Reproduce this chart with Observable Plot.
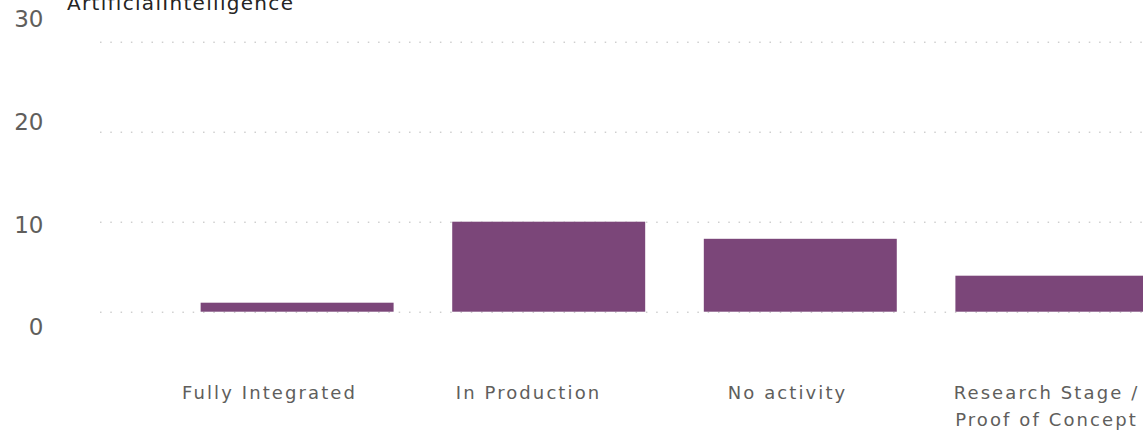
<!DOCTYPE html>
<html><head><meta charset="utf-8">
<script src="https://cdn.jsdelivr.net/npm/d3@7"></script>
<script src="https://cdn.jsdelivr.net/npm/@observablehq/plot@0.6"></script>
<style>
html,body{margin:0;padding:0;background:#fff;overflow:hidden;width:1143px;height:432px}
#wrap{position:relative;width:1143px;height:432px;overflow:hidden}
#title{position:absolute;left:67px;top:-7px;font-family:"DejaVu Sans";font-size:20px;line-height:20px;letter-spacing:1.3px;color:#252423;white-space:nowrap}
#main,#yax,#xax{position:absolute;left:0;top:0}
#main svg,#yax svg,#xax svg{max-width:none !important;overflow:visible}
#xax g[aria-label="x-axis tick label"] text{letter-spacing:2.1px}
</style></head><body>
<div id="wrap"><div id="main"></div><div id="xax"></div><div id="yax"></div><div id="title">ArtificialIntelligence</div></div>
<script>
const categories = ["Fully Integrated", "In Production", "No activity", "Research Stage / Proof of Concept"];
const tickLabels = ["Fully Integrated", "In Production", "No activity", "Research Stage /\nProof of Concept"];
const values = [1, 10, 8.1, 4];
const yTicks = [0, 10, 20, 30];

const data = categories.map((c, i) => ({category: c, value: values[i]}));

// bars and grid
const main = Plot.plot({
  width: 1249, height: 432,
  marginTop: 41.7, marginBottom: 120.3, marginLeft: 100, marginRight: 0,
  x: {domain: categories, paddingInner: 0.233, paddingOuter: 0.4, round: false, axis: null, label: null},
  y: {domain: [0, 30], axis: null, label: null},
  style: {background: "transparent", fontFamily: "DejaVu Sans", maxWidth: "none"},
  marks: [
    Plot.gridY(yTicks, {stroke: "#b8b8b8", strokeOpacity: 1, strokeDasharray: "1.5 8.8"}),
    Plot.barY(data, {x: "category", y: "value", fill: "#7b4679"})
  ]
});
document.getElementById("main").append(main);

// category labels (drawn on their own slightly wider scale, as in the reference)
const xax = Plot.plot({
  width: 1143, height: 432,
  marginTop: 41.7, marginBottom: 120.3, marginLeft: 0, marginRight: 0,
  x: {type: "point", domain: categories, range: [268, 1047], padding: 0, label: null},
  y: {domain: [0, 30], axis: null, label: null},
  style: {background: "transparent", fontFamily: "DejaVu Sans", maxWidth: "none"},
  marks: [
    Plot.axisX({
      tickSize: 0, tickPadding: 68, fontSize: 18, fill: "#605e5c", lineHeight: 1.5, label: null,
      tickFormat: d => tickLabels[categories.indexOf(d)]
    })
  ]
});
document.getElementById("xax").append(xax);

// value labels (on their own slightly taller scale, as in the reference)
const yax = Plot.plot({
  width: 100, height: 432,
  marginTop: 19.5, marginBottom: 104.5, marginLeft: 50, marginRight: 0,
  y: {domain: [0, 30], axis: null, label: null},
  style: {background: "transparent", fontFamily: "DejaVu Sans", maxWidth: "none"},
  marks: [
    Plot.axisY(yTicks, {tickSize: 0, tickPadding: 7, fontSize: 23, fill: "#605e5c", label: null})
  ]
});
document.getElementById("yax").append(yax);
</script>
</body></html>
